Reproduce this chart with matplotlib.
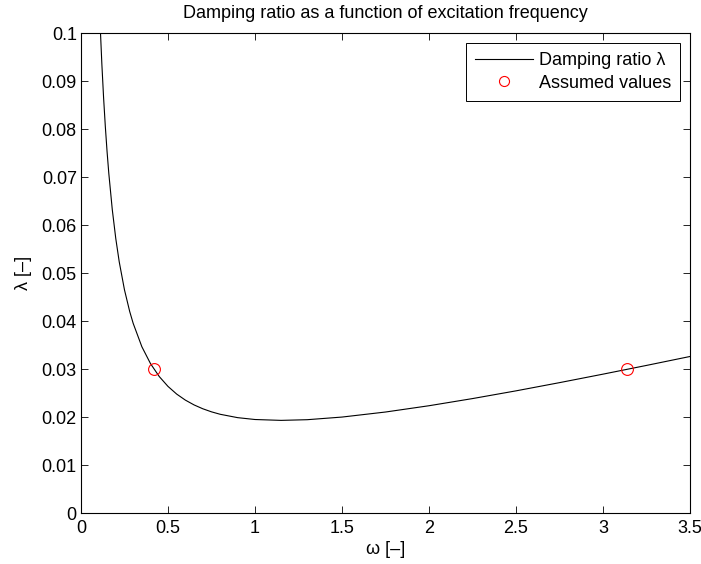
import matplotlib.pyplot as plt
from matplotlib.ticker import FuncFormatter

plt.rcParams['font.family'] = ['Liberation Sans', 'DejaVu Sans']

# damping ratio curve
omega = [0.11, 0.12, 0.13, 0.14, 0.15, 0.16, 0.18, 0.20, 0.22, 0.25, 0.28,
         0.30, 0.35, 0.40, 0.45, 0.50, 0.55, 0.60, 0.65, 0.70, 0.75, 0.80,
         0.90, 1.00, 1.15, 1.30, 1.50, 1.75, 2.00, 2.25, 2.50, 2.75, 3.00,
         3.25, 3.50]
damping = [0.10196, 0.09363, 0.08659, 0.08057, 0.07536, 0.07081, 0.06326,
           0.05726, 0.05237, 0.04656, 0.04205, 0.03958, 0.03470, 0.03116,
           0.02849, 0.02644, 0.02484, 0.02358, 0.02258, 0.02178, 0.02114,
           0.02063, 0.01993, 0.01954, 0.01936, 0.01950, 0.02005, 0.02110,
           0.02241, 0.02390, 0.02551, 0.02722, 0.02899, 0.03081, 0.03267]

# assumed values
omega_assumed = [0.42, 3.14]
damping_assumed = [0.03, 0.03]

xticks = [0, 0.5, 1, 1.5, 2, 2.5, 3, 3.5]
yticks = [0, 0.01, 0.02, 0.03, 0.04, 0.05, 0.06, 0.07, 0.08, 0.09, 0.1]

fs = 13

fig = plt.figure(figsize=(7.01, 5.64), dpi=100)
ax = fig.add_axes([0.1155, 0.0899, 0.8688, 0.851])

ax.plot(omega, damping, color='black', lw=0.8, label='Damping ratio λ')
ax.plot(omega_assumed, damping_assumed, 'o', mfc='none', mec='red',
        ms=8.5, mew=0.8, label='Assumed values')

ax.set_xlim(0, 3.5)
ax.set_ylim(0, 0.1)
ax.set_xticks(xticks)
ax.set_yticks(yticks)
fmt = FuncFormatter(lambda v, p: '%g' % v)
ax.xaxis.set_major_formatter(fmt)
ax.yaxis.set_major_formatter(fmt)
ax.tick_params(direction='in', top=True, right=True, length=5, width=0.6,
               labelsize=fs)
ax.tick_params(axis='x', pad=5)
ax.tick_params(axis='y', pad=3)
for s in ax.spines.values():
    s.set_linewidth(0.8)

ax.set_xlabel('ω [–]', fontsize=fs, labelpad=3)
ax.set_ylabel('λ [–]', fontsize=fs, labelpad=7)
ax.set_title('Damping ratio as a function of excitation frequency',
             fontsize=fs, pad=11)

leg = ax.legend(loc='upper right', fontsize=fs, fancybox=False,
                edgecolor='black', framealpha=1, borderpad=0.5,
                handlelength=3.2, handletextpad=0.33, labelspacing=0.3,
                borderaxespad=0.55, markerscale=0.85)
leg.get_frame().set_linewidth(0.7)

fig.savefig('out.png', dpi=100)
